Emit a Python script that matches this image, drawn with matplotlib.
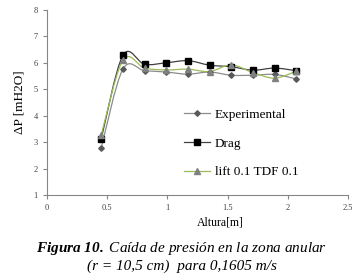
import matplotlib.pyplot as plt
import numpy as np
from matplotlib.path import Path
from matplotlib.patches import PathPatch
from matplotlib.lines import Line2D

# datos
altura = [0.45, 0.63, 0.81, 0.99, 1.17, 1.35, 1.53, 1.71, 1.89, 2.07]
experimental = [2.78, 5.76, 5.70, 5.65, 5.57, 5.65, 5.53, 5.53, 5.56, 5.39]
drag = [3.12, 6.28, 5.94, 6.00, 6.08, 5.91, 5.85, 5.72, 5.80, 5.70]
lift = [3.27, 6.10, 5.80, 5.73, 5.76, 5.67, 5.92, 5.63, 5.42, 5.68]

plt.rcParams['font.family'] = ['Liberation Serif', 'DejaVu Serif']
plt.rcParams['mathtext.fontset'] = 'custom'
plt.rcParams['mathtext.bf'] = 'Liberation Serif:italic:bold'
plt.rcParams['mathtext.it'] = 'Liberation Serif:italic'
plt.rcParams['mathtext.rm'] = 'Liberation Serif:italic'


def suave(ax, x, y, color, lw=0.9):
    # linea suavizada (Catmull-Rom en curvas de Bezier)
    p = np.column_stack([x, y])
    ext = np.vstack([p[0], p, p[-1]])
    verts = [p[0]]
    codes = [Path.MOVETO]
    for i in range(len(p) - 1):
        c1 = ext[i + 1] + (ext[i + 2] - ext[i]) / 6
        c2 = ext[i + 2] - (ext[i + 3] - ext[i + 1]) / 6
        verts += [c1, c2, ext[i + 2]]
        codes += [Path.CURVE4] * 3
    ax.add_patch(PathPatch(Path(verts, codes), fill=False, edgecolor=color, lw=lw))


fig = plt.figure(figsize=(3.56, 2.74), dpi=100)
ax = fig.add_axes([0.132, 0.288, 0.846, 0.676])

suave(ax, altura, experimental, '#8c8c8c')
suave(ax, altura, drag, '#404040')
suave(ax, altura, lift, '#9bbb59')
ax.plot(altura, experimental, 'D', color='#595959', ms=2.8, ls='none')
ax.plot(altura, drag, 's', color='black', ms=4.2, ls='none')
ax.plot(altura, lift, '^', color='#808080', ms=4.8, ls='none')

ax.set_xlim(0, 2.5)
ax.set_ylim(1, 8)
ax.set_xticks([0, 0.5, 1, 1.5, 2, 2.5])
ax.set_xticklabels(['0', '0.5', '1', '1.5', '2', '2.5'])
for s in ['top', 'right']:
    ax.spines[s].set_visible(False)
for s in ['left', 'bottom']:
    ax.spines[s].set_color('#868686')
    ax.spines[s].set_linewidth(0.8)
ax.tick_params(colors='#868686', labelcolor='#404040', labelsize=6, length=3, width=0.8)

ax.set_xlabel('Altura[m]', fontsize=8.5)
ax.xaxis.set_label_coords(0.575, -0.115)
ax.set_ylabel('ΔP [mH2O]', fontsize=9.5, labelpad=6)

handles = [
    Line2D([], [], color='#8c8c8c', lw=0.9, marker='D', mfc='#595959', mec='#595959', ms=2.8),
    Line2D([], [], color='#404040', lw=0.9, marker='s', mfc='black', mec='black', ms=4.2),
    Line2D([], [], color='#9bbb59', lw=0.9, marker='^', mfc='#808080', mec='#808080', ms=4.8),
]
ax.legend(handles, ['Experimental', 'Drag', 'lift 0.1 TDF 0.1'], loc='upper left',
          bbox_to_anchor=(0.415, 0.53), frameon=False, fontsize=9.5,
          handlelength=2.0, labelspacing=1.25, handletextpad=0.35)

fig.text(0.511, 0.08, r'$\mathbf{Figura\ 10.}$ Caída de presión en la zona anular',
         ha='center', fontsize=11, style='italic')
fig.text(0.511, 0.015, '(r = 10,5 cm)  para 0,1605 m/s', ha='center', fontsize=11,
         style='italic')

fig.savefig('out.png', dpi=100)
